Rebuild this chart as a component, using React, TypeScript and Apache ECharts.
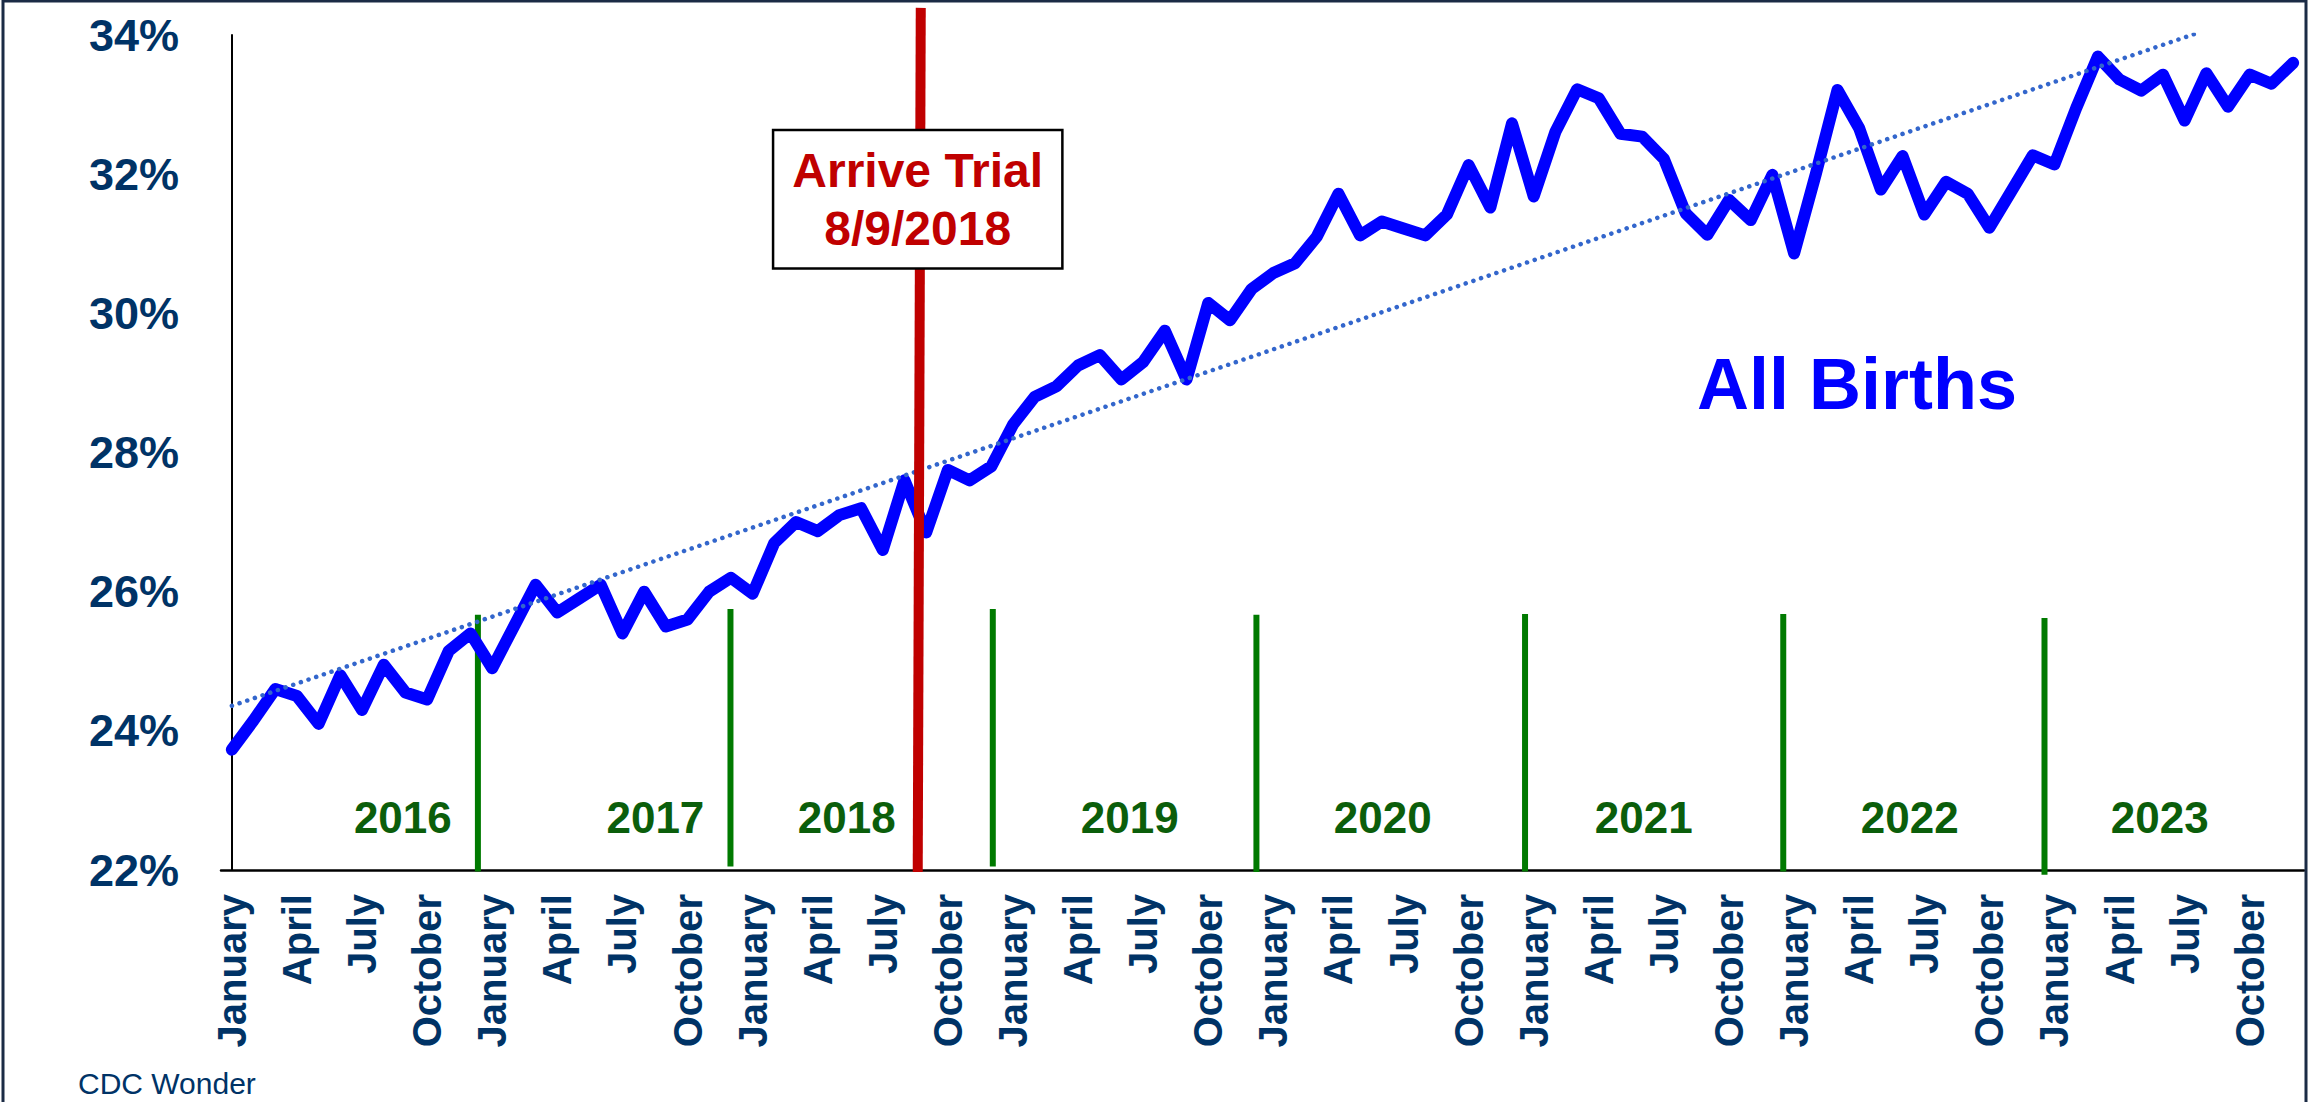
import React, { useEffect, useRef } from "react";
import * as echarts from "echarts";

// ---------- DATA ----------
const monthNames = ["January","February","March","April","May","June","July","August","September","October","November","December"];
const years = [2016, 2017, 2018, 2019, 2020, 2021, 2022, 2023];
const categories = years.flatMap((y) => monthNames.map((m) => `${m} ${y}`));

// All births, monthly share (%) Jan 2016 .. Dec 2023
const allBirths = [
  23.73, 24.15, 24.6, 24.5, 24.1, 24.8, 24.3, 24.95, 24.55, 24.45, 25.15, 25.4,
  24.9, 25.5, 26.1, 25.7, 25.9, 26.1, 25.4, 26.0, 25.5, 25.6, 26.0, 26.2,
  25.97, 26.7, 27.0, 26.87, 27.1, 27.2, 26.6, 27.6, 26.85, 27.75, 27.6, 27.8,
  28.4, 28.8, 28.95, 29.25, 29.4, 29.05, 29.3, 29.75, 29.05, 30.15, 29.9, 30.35,
  30.58, 30.72, 31.1, 31.72, 31.12, 31.32, 31.22, 31.12, 31.42, 32.13, 31.52, 32.73,
  31.68, 32.61, 33.22, 33.09, 32.58, 32.54, 32.22, 31.44, 31.13, 31.63, 31.34, 31.99,
  30.86, 32.0, 33.21, 32.66, 31.78, 32.26, 31.42, 31.89, 31.72, 31.23, 31.75, 32.27,
  32.14, 32.95, 33.69, 33.36, 33.2, 33.43, 32.77, 33.45, 32.97, 33.43, 33.3, 33.6,
];

// linear trend (start / end of the dotted line)
const trendX = [0, 90.6];
const trendY = [24.36, 34.03];

// y axis
const yMin = 22;
const yMax = 34;
const yStep = 2;

// annotations
const yearLabels = ["2016", "2017", "2018", "2019", "2020", "2021", "2022", "2023"];
const yearLabelAt = [7.88, 19.52, 28.34, 41.38, 53.04, 65.07, 77.33, 88.85];
const yearLabelValue = 22.76;

const yearDividerAt = [11.34, 22.98, 35.07, 47.22, 59.6, 71.5, 83.54];
const yearDividerTop = [25.67, 25.75, 25.75, 25.67, 25.68, 25.68, 25.62];
const yearDividerBottom = [21.98, 22.05, 22.05, 21.97, 21.98, 21.98, 21.93];

const trialLineX = [31.75, 31.61];
const trialLineY = [34.39, 21.97];
const trialText = "Arrive Trial\n8/9/2018";
const trialBoxAt = [31.61, 31.64];

const FONT = '"Liberation Sans", Arial, "DejaVu Sans", sans-serif';
const NAVY = "#003366";

export default function App() {
  const ref = useRef<HTMLDivElement>(null);

  useEffect(() => {
    document.body.style.margin = "0";
    if (!ref.current) return;
    const chart = echarts.init(ref.current, undefined, { renderer: "svg" });

    const dividerSeries = yearDividerAt.map((x, i) => ({
      type: "line",
      xAxisIndex: 1,
      yAxisIndex: 0,
      data: [
        [x, yearDividerTop[i]],
        [x, yearDividerBottom[i]],
      ],
      symbol: "none",
      clip: false,
      silent: true,
      lineStyle: { color: "#007A00", width: 6, cap: "butt", opacity: 1 },
      z: 3,
    }));

    chart.setOption({
      animation: false,
      backgroundColor: "#ffffff",
      grid: { left: 221, right: 4, top: 35, bottom: 232, containLabel: false },
      xAxis: [
        {
          type: "category",
          data: categories,
          boundaryGap: true,
          axisLine: { show: true, lineStyle: { color: "#000", width: 2.5 } },
          axisTick: { show: false },
          splitLine: { show: false },
          axisLabel: {
            interval: 2,
            rotate: 90,
            margin: 24,
            fontSize: 40,
            fontWeight: "bold",
            fontFamily: FONT,
            color: NAVY,
            formatter: (v: string) => v.split(" ")[0],
          },
          z: 2,
        },
        {
          type: "value",
          min: -0.5,
          max: 95.5,
          show: false,
          splitLine: { show: false },
        },
      ],
      yAxis: {
        type: "value",
        min: yMin,
        max: yMax,
        interval: yStep,
        axisLine: { show: true, lineStyle: { color: "#000", width: 2 } },
        axisTick: { show: false },
        splitLine: { show: false },
        axisLabel: {
          formatter: "{value}%",
          margin: 42,
          fontSize: 45,
          fontWeight: "bold",
          fontFamily: FONT,
          color: NAVY,
        },
      },
      series: [
        {
          name: "All Births",
          type: "line",
          xAxisIndex: 1,
          data: allBirths.map((v, i) => [i, v]),
          symbol: "none",
          lineStyle: { color: "#0000FF", width: 12, join: "round", cap: "round" },
          z: 4,
        },
        {
          name: "Trend",
          type: "line",
          xAxisIndex: 1,
          data: trendX.map((x, i) => [x, trendY[i]]),
          symbol: "none",
          lineStyle: { color: "#3366CC", width: 4.5, type: [0.1, 8], cap: "round" },
          z: 5,
        },
        ...dividerSeries,
        {
          name: "Trial",
          type: "line",
          xAxisIndex: 1,
          data: trialLineX.map((x, i) => [x, trialLineY[i]]),
          symbol: "none",
          clip: false,
          lineStyle: { color: "#C00000", width: 10, cap: "butt" },
          z: 6,
        },
        {
          name: "Years",
          type: "scatter",
          xAxisIndex: 1,
          symbolSize: 0,
          silent: true,
          itemStyle: { opacity: 1 },
          data: yearLabels.map((n, i) => ({ name: n, value: [yearLabelAt[i], yearLabelValue] })),
          label: {
            show: true,
            position: "inside",
            formatter: "{b}",
            fontSize: 44,
            fontWeight: "bold",
            fontFamily: FONT,
            color: "#0B5E0B",
            opacity: 1,
          },
          z: 7,
        },
        {
          name: "TrialBox",
          type: "scatter",
          xAxisIndex: 1,
          symbolSize: 0,
          silent: true,
          itemStyle: { opacity: 1 },
          data: [{ name: trialText, value: trialBoxAt }],
          label: {
            show: true,
            position: "inside",
            formatter: "{b}",
            fontSize: 48,
            lineHeight: 58,
            fontWeight: "bold",
            fontFamily: FONT,
            color: "#C00000",
            opacity: 1,
            align: "center",
            backgroundColor: "#ffffff",
            borderColor: "#000000",
            borderWidth: 2.5,
            padding: [10, 18, 10, 18],
          },
          z: 8,
        },
      ],
      graphic: [
        {
          type: "text",
          x: 1857,
          y: 384,
          style: {
            text: "All Births",
            font: `bold 72px ${FONT}`,
            fill: "#0000FF",
            align: "center",
            verticalAlign: "middle",
          },
          z: 10,
        },
        {
          type: "text",
          x: 78,
          y: 1068,
          style: {
            text: "CDC Wonder",
            font: `30px ${FONT}`,
            fill: NAVY,
            align: "left",
            verticalAlign: "top",
          },
          z: 10,
        },
        {
          type: "rect",
          shape: { x: 3, y: 1, width: 2303, height: 1115 },
          style: { fill: "none", stroke: "#1B2B45", lineWidth: 3 },
          silent: true,
          z: 20,
        },
      ],
    });

    return () => chart.dispose();
  }, []);

  return <div ref={ref} style={{ width: 2308, height: 1102 }} />;
}
